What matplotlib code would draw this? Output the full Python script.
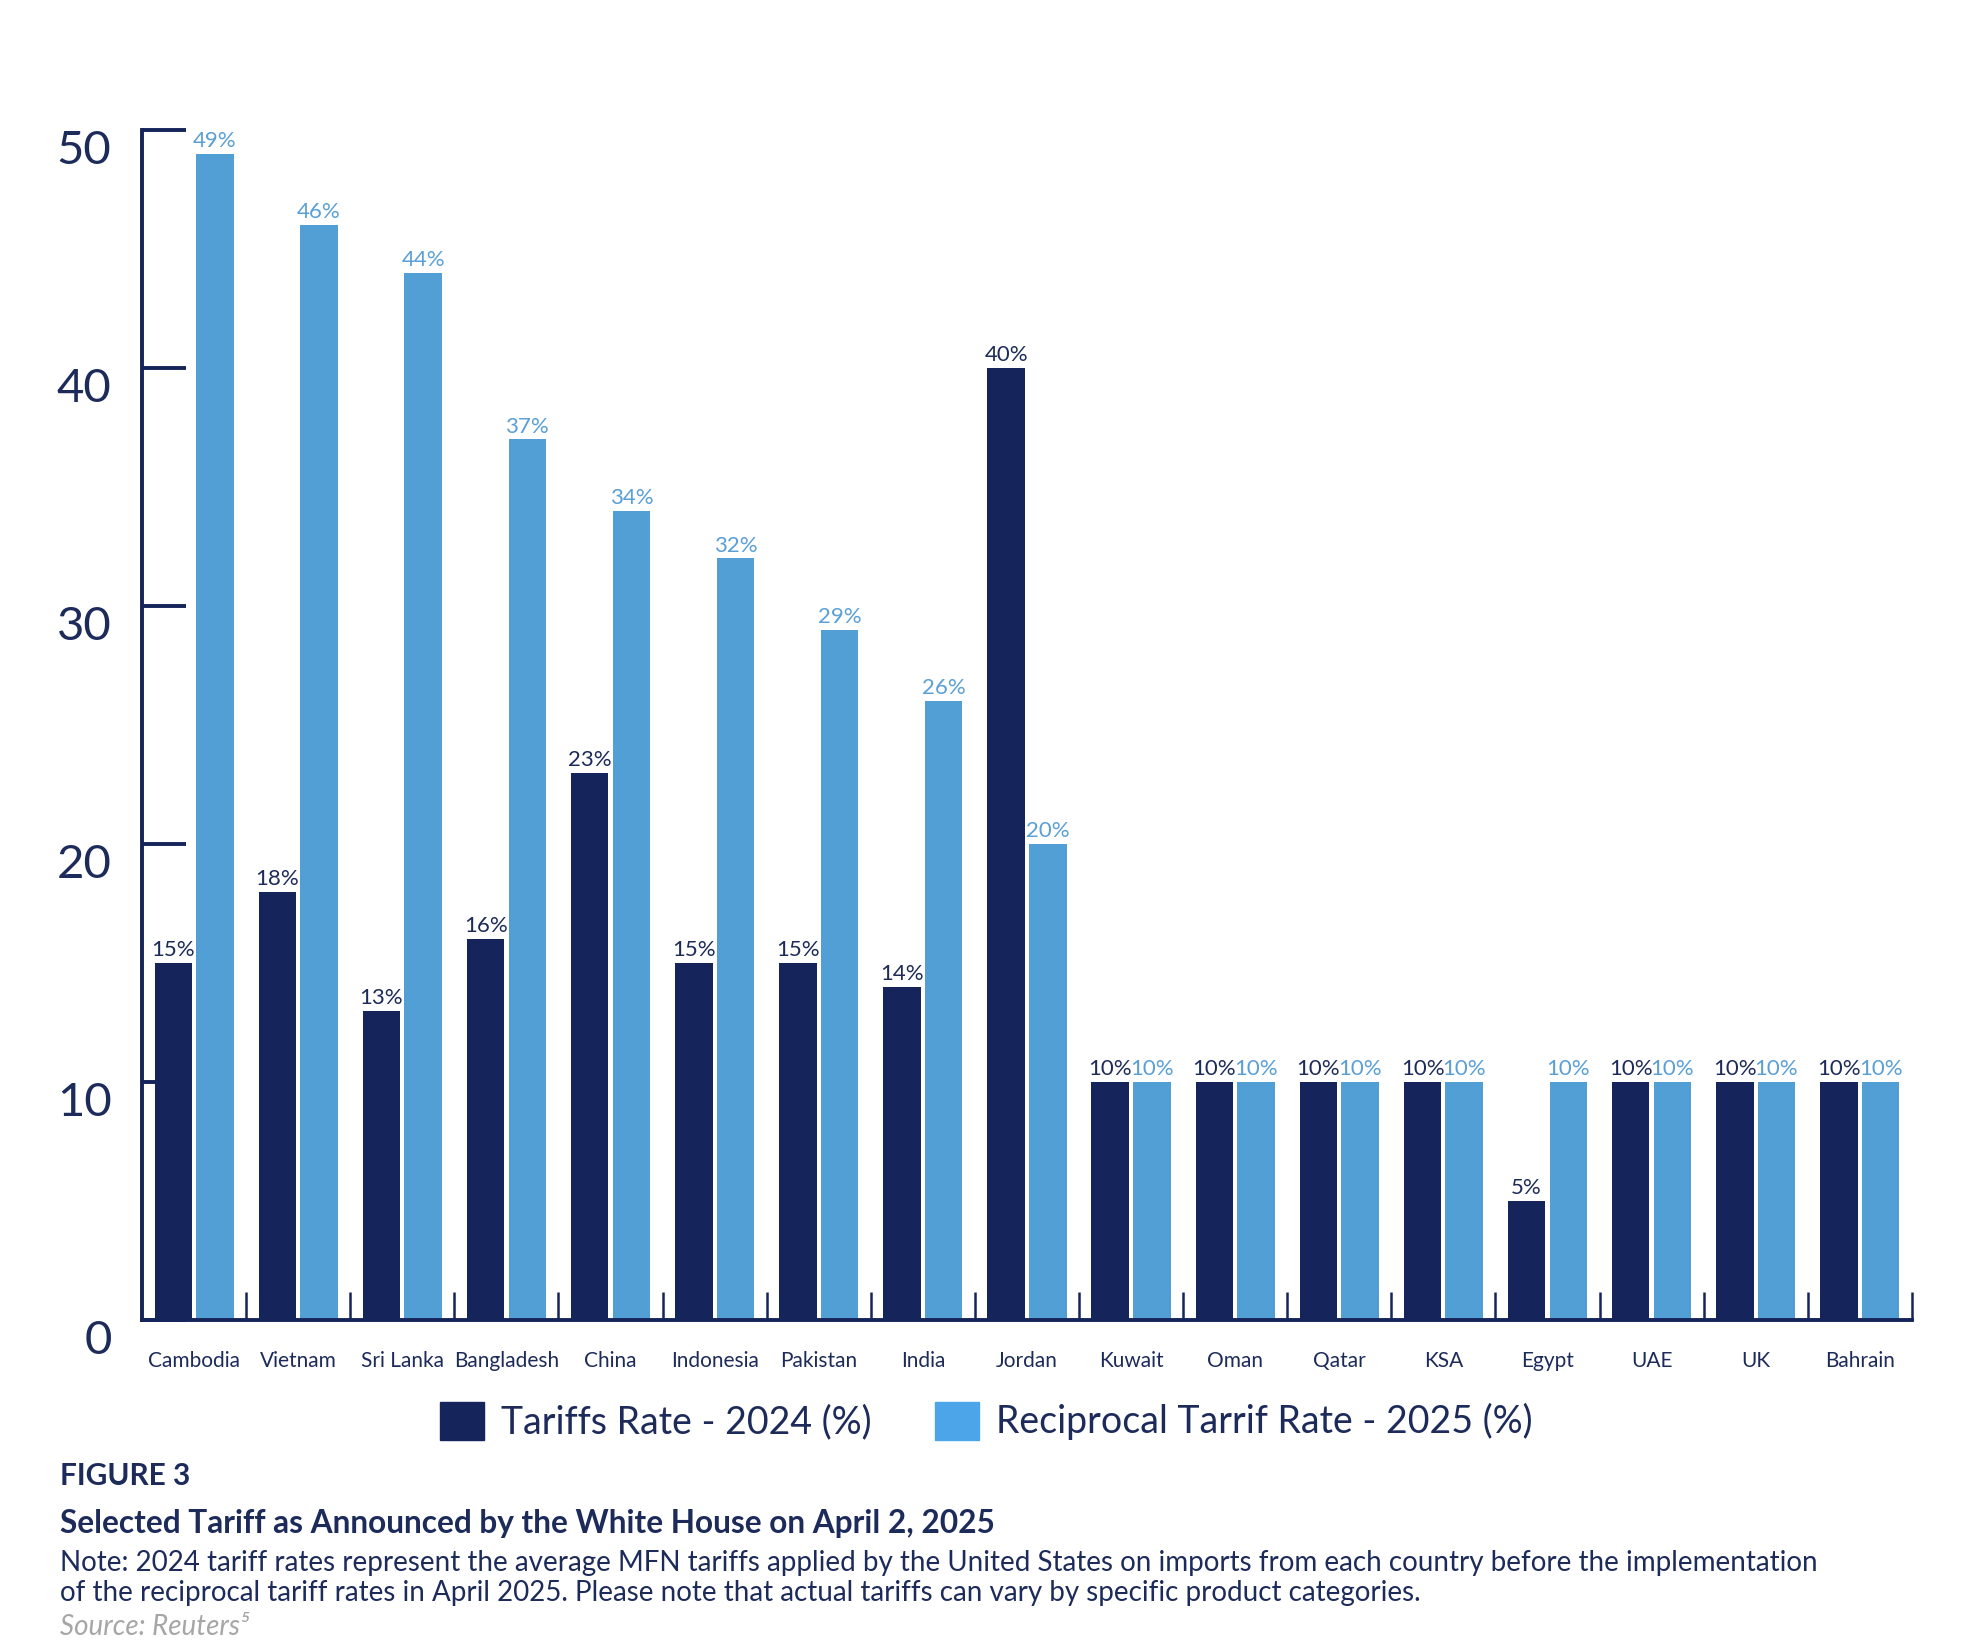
import numpy as np
import matplotlib.pyplot as plt
import matplotlib.transforms as mtransforms
from matplotlib.patches import Patch

plt.rcParams['font.family'] = ['Lato', 'DejaVu Sans']

# Data
countries = ["Cambodia", "Vietnam", "Sri Lanka", "Bangladesh", "China", "Indonesia",
             "Pakistan", "India", "Jordan", "Kuwait", "Oman", "Qatar", "KSA", "Egypt",
             "UAE", "UK", "Bahrain"]
rate_2024 = [15, 18, 13, 16, 23, 15, 15, 14, 40, 10, 10, 10, 10, 5, 10, 10, 10]
rate_2025 = [49, 46, 44, 37, 34, 32, 29, 26, 20, 10, 10, 10, 10, 10, 10, 10, 10]
y_ticks = [0, 10, 20, 30, 40, 50]
legend_labels = ["Tariffs Rate - 2024 (%)", "Reciprocal Tarrif Rate - 2025 (%)"]

# Colours
navy = "#15245A"
sky = "#529FD6"
legend_sky = "#4BA5E8"
text_navy = "#1D2B5B"
label_sky = "#5A9FD6"

fig = plt.figure(figsize=(19.73, 16.43), dpi=100)
ax = fig.add_axes([0.072, 0.1966, 0.897, 0.7243])

x = np.arange(len(countries))
bw = 0.36
bars_24 = ax.bar(x - 0.2, rate_2024, bw, color=navy, zorder=3)
bars_25 = ax.bar(x + 0.2, rate_2025, bw, color=sky, zorder=3)

# value labels on top of bars
for bars, vals, col in [(bars_24, rate_2024, text_navy), (bars_25, rate_2025, label_sky)]:
    for rect, v in zip(bars, vals):
        ax.annotate(f"{v}%", (rect.get_x() + rect.get_width() / 2, v),
                    xytext=(0, 2), textcoords="offset points",
                    ha="center", va="bottom", fontsize=16, color=col)

ax.set_xlim(-0.5, len(countries) - 0.5)
ax.set_ylim(0, 50)

for side in ["top", "right"]:
    ax.spines[side].set_visible(False)
for side in ["left", "bottom"]:
    ax.spines[side].set_color(navy)
    ax.spines[side].set_linewidth(2.8)
    ax.spines[side].set_zorder(4)

# y axis: inward ticks, big numbers a bit below each tick
ax.set_yticks(y_ticks)
ax.tick_params(axis="y", direction="in", length=32, width=2.8, color=navy,
               labelsize=34, pad=22, labelcolor=text_navy)
offset = mtransforms.ScaledTranslation(0, -0.17, fig.dpi_scale_trans)
for lab in ax.get_yticklabels():
    lab.set_transform(lab.get_transform() + offset)

# x axis: country names at centres, short ticks at group boundaries
ax.set_xticks(x)
ax.set_xticklabels(countries)
ax.set_xticks(x + 0.5, minor=True)
ax.tick_params(axis="x", which="major", length=0, pad=22, labelsize=15,
               labelcolor=text_navy)
ax.tick_params(axis="x", which="minor", direction="in", length=20, width=1.8,
               color=navy)

handles = [Patch(color=navy), Patch(color=legend_sky)]
fig.legend(handles, legend_labels, loc="center", bbox_to_anchor=(0.5, 0.135),
           ncol=2, frameon=False, fontsize=27, labelcolor=text_navy,
           handlelength=1.17, handleheight=1.17, handletextpad=0.47,
           columnspacing=1.68)

# caption
fig.text(0.0304, 0.1015, "FIGURE 3", fontsize=21.5, fontweight="bold",
         color=text_navy, va="center")
fig.text(0.0304, 0.0729, "Selected Tariff as Announced by the White House on April 2, 2025",
         fontsize=22.8, fontweight="bold", color=text_navy, va="center")
fig.text(0.0304, 0.0395,
         "Note: 2024 tariff rates represent the average MFN tariffs applied by the United States "
         "on imports from each country before the implementation\n"
         "of the reciprocal tariff rates in April 2025. Please note that actual tariffs can vary "
         "by specific product categories.",
         fontsize=20, color=text_navy, va="center", linespacing=1.2)
fig.text(0.0304, 0.0095, "Source: Reuters⁵", fontsize=20, fontstyle="italic",
         color="#A6A6A6", va="center")

fig.savefig("out.png", dpi=100)
